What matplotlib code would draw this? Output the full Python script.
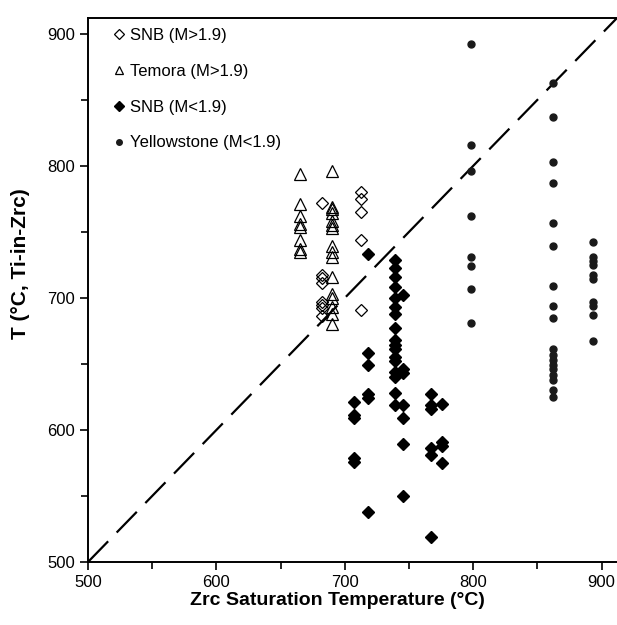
import matplotlib
matplotlib.use("Agg")
import matplotlib.pyplot as plt
from matplotlib.ticker import MultipleLocator

plt.rcParams['font.family'] = ['Liberation Sans', 'DejaVu Sans']

# SNB (M>1.9) - open diamonds
snb_hi_x = [682, 682, 682, 682, 682, 682, 682, 682, 713, 713, 713, 713, 713]
snb_hi_y = [772, 717, 715, 711, 697, 695, 692, 686, 780, 775, 765, 744, 691]

# Temora (M>1.9) - open triangles
tem_x = [665] * 8 + [690] * 16
tem_y = [794, 771, 762, 756, 754, 744, 737, 735,
         796, 769, 767, 764, 758, 755, 753, 739, 735, 731, 716, 703, 700, 693, 688, 680]

# SNB (M<1.9) - filled diamonds
snb_lo_x = ([707] * 5 + [718] * 6 + [739] * 17 + [745] * 7 + [767] * 6 + [776] * 4)
snb_lo_y = ([621, 611, 609, 579, 576,
             733, 658, 649, 627, 624, 538,
             729, 723, 716, 708, 700, 693, 688, 677, 668, 664, 661, 655, 652, 644, 640, 628, 619,
             702, 646, 643, 619, 609, 589, 550,
             627, 619, 616, 586, 581, 519,
             620, 591, 588, 575])

# Yellowstone (M<1.9) - small dots
ys_x = [798] * 8 + [862] * 18 + [893] * 10
ys_y = [892, 816, 796, 762, 731, 724, 707, 681,
        863, 837, 803, 787, 757, 739, 709, 694, 685, 661, 657, 653, 649, 646, 642, 638, 630, 625,
        742, 731, 728, 725, 717, 714, 697, 694, 687, 667]

line_x = [500, 920]
line_y = [500, 920]

fig = plt.figure(figsize=(6.17, 6.25), dpi=100)
ax = fig.add_axes([88 / 617, 1 - 562 / 625, 1 - 88 / 617, (562 - 18) / 625])

ax.plot(line_x, line_y, color='black', lw=1.6, dashes=(13, 5.5), zorder=1)

ax.plot(ys_x, ys_y, ls='none', marker='o', ms=5, color='#1a1a1a', label='Yellowstone (M<1.9)', zorder=3)
ax.plot(snb_lo_x, snb_lo_y, ls='none', marker='D', ms=6.3, color='black', label='SNB (M<1.9)', zorder=3)
ax.plot(tem_x, tem_y, ls='none', marker='^', ms=8, mfc='none', mec='black', mew=0.9, label='Temora (M>1.9)', zorder=3)
ax.plot(snb_hi_x, snb_hi_y, ls='none', marker='D', ms=5.8, mfc='none', mec='black', mew=0.9, label='SNB (M>1.9)', zorder=3)

ax.set_xlim(500, 912)
ax.set_ylim(500, 912)
ax.xaxis.set_major_locator(MultipleLocator(100))
ax.xaxis.set_minor_locator(MultipleLocator(50))
ax.yaxis.set_major_locator(MultipleLocator(100))
ax.yaxis.set_minor_locator(MultipleLocator(50))
ax.tick_params(which='major', direction='out', length=5.5, width=1.2, labelsize=12, color='black', pad=4)
ax.tick_params(which='minor', direction='out', length=5, width=1.2, color='black')
for s in ['left', 'bottom', 'top']:
    ax.spines[s].set_linewidth(1.4)
ax.spines['right'].set_visible(False)

ax.set_xlabel('Zrc Saturation Temperature (°C)', fontsize=14, fontweight='bold')
ax.xaxis.set_label_coords(0.472, -0.056)
ax.set_ylabel('T (°C, Ti-in-Zrc)', fontsize=15, fontweight='bold')
ax.yaxis.set_label_coords(-0.11, 0.548)

h, l = ax.get_legend_handles_labels()
order = [3, 2, 1, 0]
leg = ax.legend([h[i] for i in order], [l[i] for i in order], loc='upper left', frameon=False,
                fontsize=12, handlelength=0.6, handletextpad=0.4, labelspacing=1.25,
                borderaxespad=0.0, bbox_to_anchor=(0.036, 0.994), markerscale=0.8)

fig.savefig('out.png', dpi=100)
